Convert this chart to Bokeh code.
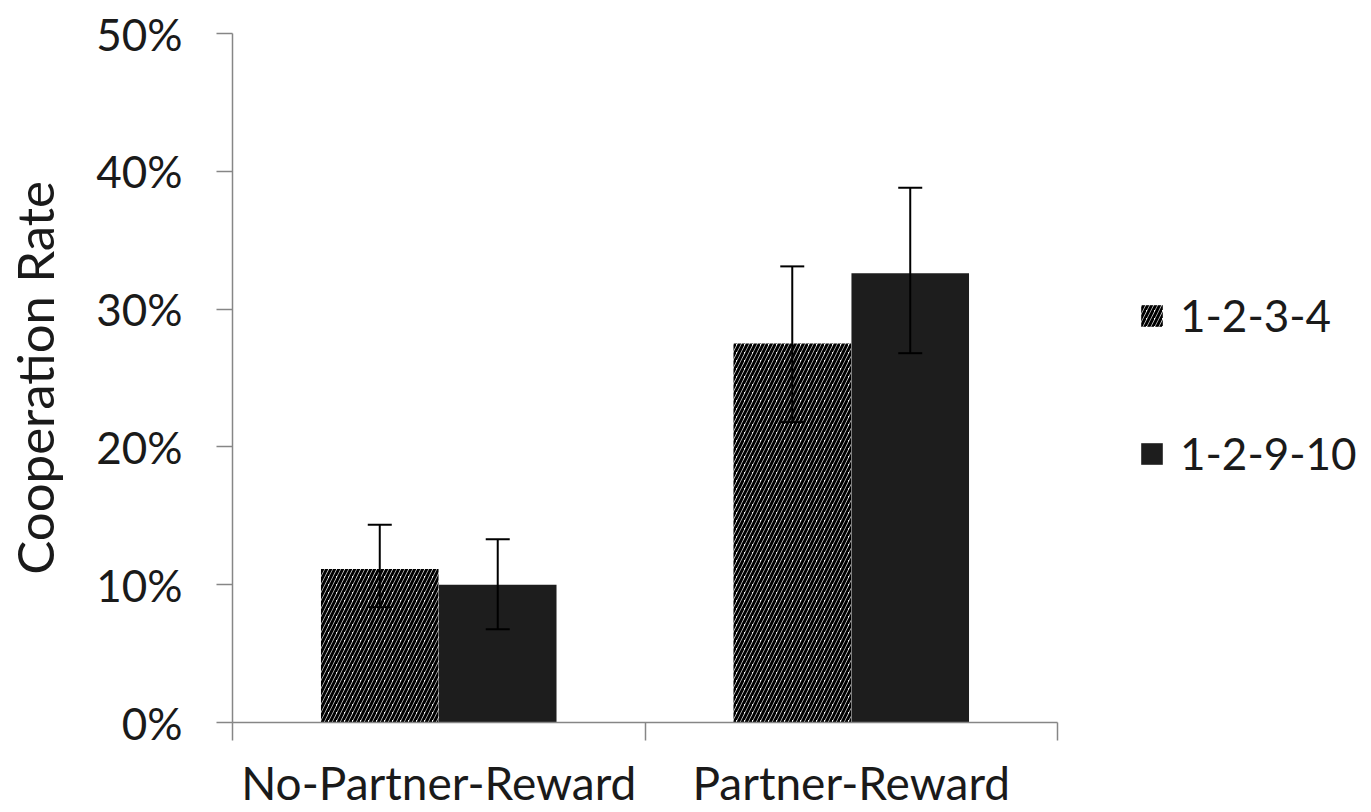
from bokeh.plotting import figure
from bokeh.models import (ColumnDataSource, Range1d, FixedTicker, LinearAxis,
                          NumeralTickFormatter, Whisker, TeeHead, Legend, LegendItem)
from bokeh.embed import file_html
from bokeh.resources import INLINE

# ---- data ----
categories = ["No-Partner-Reward", "Partner-Reward"]
series = ["1-2-3-4", "1-2-9-10"]
rate_1234 = [0.1114, 0.275]
rate_12910 = [0.100, 0.326]
low_1234 = [0.0836, 0.218]
high_1234 = [0.1435, 0.331]
low_12910 = [0.0676, 0.268]
high_12910 = [0.133, 0.388]
y_ticks = [0, 0.1, 0.2, 0.3, 0.4, 0.5]

FONT = "Lato"
TXT = "#1a1a1a"
AX = "#868686"

offset = 0.143
bar_w = 0.285
n = len(categories)
centers = [i + 0.5 for i in range(n)]

src1 = ColumnDataSource(dict(x=[c - offset for c in centers], top=rate_1234,
                             lower=low_1234, upper=high_1234))
src2 = ColumnDataSource(dict(x=[c + offset for c in centers], top=rate_12910,
                             lower=low_12910, upper=high_12910))

# plot area widened to the right so the legend lives inside it; axis line bounded to categories
x_end = n * (1371 - 232) / 825.0
p = figure(width=1371, height=812, output_backend="svg", toolbar_location=None,
           x_range=Range1d(0, x_end), y_range=Range1d(0, 0.5),
           x_axis_type=None, min_border_left=232, min_border_right=0,
           min_border_top=33, min_border_bottom=90)
p.outline_line_color = None
p.xgrid.visible = False
p.ygrid.visible = False
p.background_fill_color = "white"
p.border_fill_color = "white"

r1 = p.vbar(x="x", top="top", width=bar_w, source=src1, fill_color="white",
            line_color=None, hatch_pattern="/", hatch_color="black",
            hatch_scale=8, hatch_weight=3)
r2 = p.vbar(x="x", top="top", width=bar_w, source=src2, fill_color="#1d1d1d",
            line_color=None)

for s in (src1, src2):
    w = Whisker(base="x", lower="lower", upper="upper", source=s, dimension="height",
                line_color="black", line_width=2, level="overlay",
                upper_head=TeeHead(size=24, line_width=2, line_color="black"),
                lower_head=TeeHead(size=24, line_width=2, line_color="black"))
    p.add_layout(w)

# y axis
ya = p.yaxis[0]
ya.ticker = FixedTicker(ticks=y_ticks)
ya.formatter = NumeralTickFormatter(format="0%")
ya.axis_line_color = AX
ya.axis_line_width = 1.5
ya.major_tick_line_color = AX
ya.major_tick_line_width = 1.5
ya.major_tick_out = 16
ya.major_tick_in = 0
ya.minor_tick_line_color = None
ya.major_label_standoff = 34
ya.major_label_text_font = FONT
ya.major_label_text_font_size = "44px"
ya.major_label_text_color = TXT
ya.axis_label = "Cooperation Rate"
ya.axis_label_text_font = FONT
ya.axis_label_text_font_size = "51px"
ya.axis_label_text_font_style = "normal"
ya.axis_label_text_color = TXT
ya.axis_label_standoff = 28

# x axis: boundary ticks
xa = LinearAxis(ticker=FixedTicker(ticks=list(range(n + 1))), bounds=(0, n))
xa.major_label_overrides = {i: " " for i in range(n + 1)}
xa.major_label_text_font_size = "1px"
xa.major_label_standoff = 0
xa.axis_line_color = AX
xa.axis_line_width = 1.5
xa.major_tick_line_color = AX
xa.major_tick_line_width = 1.5
xa.major_tick_out = 18
xa.major_tick_in = 0
xa.minor_tick_line_color = None
p.add_layout(xa, "below")

# x axis: category labels
xb = LinearAxis(ticker=FixedTicker(ticks=centers))
xb.major_label_overrides = {c: nm for c, nm in zip(centers, categories)}
xb.axis_line_color = None
xb.major_tick_line_color = None
xb.minor_tick_line_color = None
xb.major_label_standoff = 4
xb.major_label_text_font = FONT
xb.major_label_text_font_size = "46px"
xb.major_label_text_color = TXT
p.add_layout(xb, "below")

legend = Legend(items=[LegendItem(label=series[0], renderers=[r1]),
                       LegendItem(label=series[1], renderers=[r2])],
                location=(906, 243), orientation="vertical",
                glyph_width=27, glyph_height=27, label_height=27,
                label_standoff=15, spacing=86, padding=0, margin=0,
                border_line_color=None, background_fill_alpha=0,
                label_text_font=FONT, label_text_font_size="44px",
                label_text_color=TXT)
p.add_layout(legend, "center")

open("out.html", "w").write(file_html(p, INLINE))
